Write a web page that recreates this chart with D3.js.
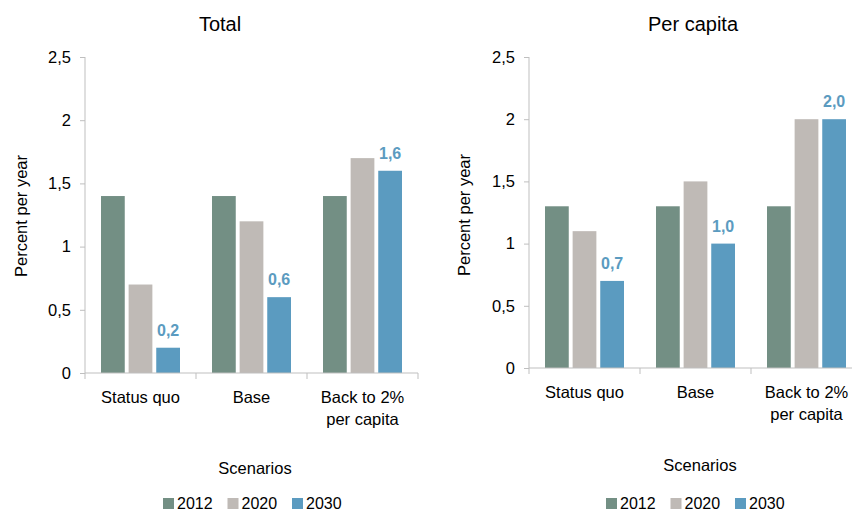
<!DOCTYPE html>
<html>
<head>
<meta charset="utf-8">
<script src="https://cdn.jsdelivr.net/npm/d3@7"></script>
<style>
  body { margin: 0; background: #fff; }
  svg { font-family: "Liberation Sans", Arial, sans-serif; }
</style>
</head>
<body>
<div id="vis"></div>
<script>
const FRAME_WIDTH = 852;
const FRAME_HEIGHT = 511;

// data
const CATEGORIES = ["Status quo", "Base", "Back to 2%|per capita"];
const SERIES = ["2012", "2020", "2030"];
const COLORS = ["#738f84", "#bfbab6", "#5b9bc0"];
const Y_TICKS = [0, 0.5, 1, 1.5, 2, 2.5];

const TOTAL_2012 = [1.4, 1.4, 1.4];
const TOTAL_2020 = [0.7, 1.2, 1.7];
const TOTAL_2030 = [0.2, 0.6, 1.6];

const CAPITA_2012 = [1.3, 1.3, 1.3];
const CAPITA_2020 = [1.1, 1.5, 2.0];
const CAPITA_2030 = [0.7, 1.0, 2.0];

const FRAME = d3.select("#vis")
                .append("svg")
                  .attr("width", FRAME_WIDTH)
                  .attr("height", FRAME_HEIGHT);

const comma = (v) => String(v).replace(".", ",");
const fmt1 = (v) => v.toFixed(1).replace(".", ",");

function drawPanel(p) {
  const g = FRAME.append("g");

  const X = d3.scaleBand()
              .domain(CATEGORIES)
              .range([p.left, p.left + 3 * p.band]);
  const INNER = d3.scaleBand()
                  .domain(SERIES)
                  .range([(p.band - 79) / 2, (p.band + 79) / 2])
                  .paddingInner(0.14);
  const Y = d3.scaleLinear()
              .domain([0, 2.5])
              .range([p.bottom, p.top]);

  // bars
  p.values.forEach((vals, si) => {
    g.selectAll(null)
      .data(vals)
      .enter()
      .append("rect")
        .attr("x", (d, i) => X(CATEGORIES[i]) + INNER(SERIES[si]))
        .attr("y", (d) => Y(d))
        .attr("width", INNER.bandwidth())
        .attr("height", (d) => Y(0) - Y(d))
        .attr("fill", COLORS[si]);
  });

  // value labels for 2030
  g.selectAll(null)
    .data(p.values[2])
    .enter()
    .append("text")
      .attr("x", (d, i) => X(CATEGORIES[i]) + INNER(SERIES[2]) + INNER.bandwidth() / 2)
      .attr("y", (d) => Y(d) - 12)
      .attr("text-anchor", "middle")
      .attr("font-size", "16px")
      .attr("font-weight", "bold")
      .attr("fill", COLORS[2])
      .text((d) => fmt1(d));

  // y axis
  const yAxis = g.append("g")
    .attr("transform", "translate(" + p.left + ",0)")
    .call(d3.axisLeft(Y).tickValues(Y_TICKS).tickFormat(comma).tickSize(5).tickPadding(9));
  yAxis.select(".domain").attr("stroke", "#bfbfbf").attr("d", "M0," + p.top + "V" + p.bottom);
  yAxis.selectAll(".tick line").attr("stroke", "#bfbfbf");
  yAxis.selectAll(".tick text").attr("font-size", "16.5px").attr("fill", "#000");

  // x axis line and boundary ticks
  const xEnd = p.left + 3 * p.band;
  g.append("line")
    .attr("x1", p.left).attr("x2", xEnd)
    .attr("y1", p.bottom).attr("y2", p.bottom)
    .attr("stroke", "#bfbfbf");
  g.selectAll(null)
    .data([0, 1, 2, 3])
    .enter()
    .append("line")
      .attr("x1", (d) => p.left + d * p.band)
      .attr("x2", (d) => p.left + d * p.band)
      .attr("y1", p.bottom).attr("y2", p.bottom + 6)
      .attr("stroke", "#bfbfbf");

  // category labels
  g.selectAll(null)
    .data(CATEGORIES)
    .enter()
    .append("text")
      .attr("x", (d) => X(d) + X.bandwidth() / 2)
      .attr("y", p.bottom + 30)
      .attr("text-anchor", "middle")
      .attr("font-size", "16.5px")
      .each(function (d) {
        d.split("|").forEach((line, k) => {
          d3.select(this).append("tspan")
            .attr("x", X(d) + X.bandwidth() / 2)
            .attr("dy", k === 0 ? 0 : 22)
            .text(line);
        });
      });

  // title
  g.append("text")
    .attr("x", p.titleX).attr("y", 31)
    .attr("text-anchor", "middle")
    .attr("font-size", "20px")
    .text(p.title);

  // y label
  g.append("text")
    .attr("transform", "translate(" + p.yLabelX + "," + p.yLabelY + ") rotate(-90)")
    .attr("text-anchor", "middle")
    .attr("font-size", "16.5px")
    .text("Percent per year");

  // x title
  g.append("text")
    .attr("x", p.scenX).attr("y", p.scenY)
    .attr("text-anchor", "middle")
    .attr("font-size", "16.5px")
    .text("Scenarios");

  // legend
  const leg = g.selectAll(null)
    .data(SERIES)
    .enter()
    .append("g")
      .attr("transform", (d, i) => "translate(" + (p.legX + i * 64.5) + "," + 498 + ")");
  leg.append("rect")
    .attr("width", 11).attr("height", 11)
    .attr("fill", (d, i) => COLORS[i]);
  leg.append("text")
    .attr("x", 14).attr("y", 11)
    .attr("font-size", "16px")
    .text((d) => d);
}

drawPanel({
  title: "Total", titleX: 220,
  left: 85, band: 111, top: 57, bottom: 373,
  yLabelX: 27, yLabelY: 216,
  scenX: 255, scenY: 474, legX: 163,
  values: [TOTAL_2012, TOTAL_2020, TOTAL_2030]
});

drawPanel({
  title: "Per capita", titleX: 693,
  left: 529, band: 111, top: 57, bottom: 368,
  yLabelX: 470, yLabelY: 215,
  scenX: 700, scenY: 471, legX: 606,
  values: [CAPITA_2012, CAPITA_2020, CAPITA_2030]
});
</script>
</body>
</html>
